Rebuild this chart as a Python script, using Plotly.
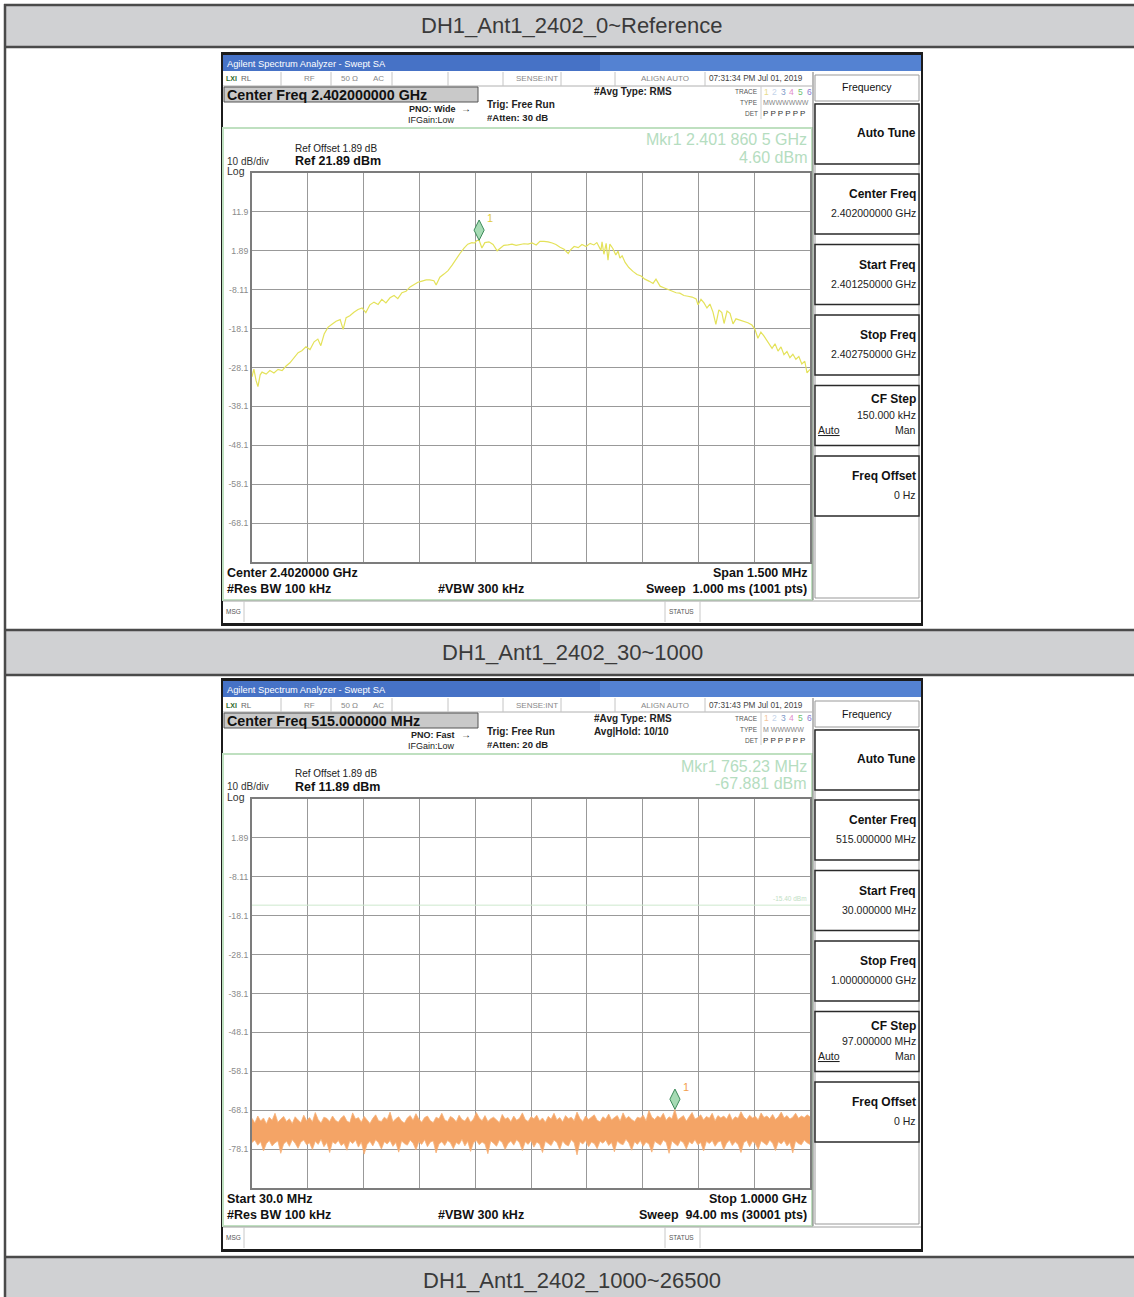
import plotly.graph_objects as go

W, H = 1134, 1297
FONT = "Liberation Sans, Arial, sans-serif"

# ------------------------------------------------------------------ data
section_titles = ["DH1_Ant1_2402_0~Reference", "DH1_Ant1_2402_30~1000", "DH1_Ant1_2402_1000~26500"]

# Screen 1 : reference level sweep (MHz / dBm)
s1_freq_mhz = [
    2401.250, 2401.255, 2401.261, 2401.266, 2401.272, 2401.277, 2401.288, 2401.298, 2401.309, 2401.320,
    2401.331, 2401.341, 2401.352, 2401.363, 2401.374, 2401.384, 2401.395, 2401.406, 2401.417, 2401.427,
    2401.435, 2401.444, 2401.454, 2401.465, 2401.476, 2401.487, 2401.495, 2401.503, 2401.513, 2401.524,
    2401.535, 2401.546, 2401.556, 2401.567, 2401.578, 2401.589, 2401.599, 2401.610, 2401.621, 2401.632,
    2401.642, 2401.653, 2401.664, 2401.675, 2401.685, 2401.696, 2401.707, 2401.718, 2401.728, 2401.739,
    2401.745, 2401.755, 2401.766, 2401.777, 2401.788, 2401.798, 2401.809, 2401.820, 2401.830, 2401.841,
    2401.849, 2401.854, 2401.8605, 2401.868, 2401.876, 2401.887, 2401.898, 2401.909, 2401.917, 2401.927,
    2401.938, 2401.949, 2401.960, 2401.970, 2401.981, 2401.992, 2402.003, 2402.014, 2402.024, 2402.035,
    2402.046, 2402.057, 2402.067, 2402.078, 2402.089, 2402.100, 2402.105, 2402.116, 2402.127, 2402.137,
    2402.148, 2402.159, 2402.169, 2402.177, 2402.188, 2402.191, 2402.196, 2402.202, 2402.207, 2402.212,
    2402.220, 2402.228, 2402.234, 2402.239, 2402.245, 2402.253, 2402.263, 2402.274, 2402.285, 2402.296,
    2402.306, 2402.317, 2402.328, 2402.336, 2402.347, 2402.357, 2402.368, 2402.379, 2402.390, 2402.400,
    2402.411, 2402.422, 2402.433, 2402.444, 2402.449, 2402.457, 2402.465, 2402.473, 2402.481, 2402.489,
    2402.497, 2402.505, 2402.513, 2402.519, 2402.527, 2402.535, 2402.543, 2402.551, 2402.562, 2402.572,
    2402.583, 2402.594, 2402.602, 2402.610, 2402.618, 2402.626, 2402.637, 2402.648, 2402.656, 2402.664,
    2402.672, 2402.680, 2402.688, 2402.696, 2402.704, 2402.712, 2402.720, 2402.728, 2402.736, 2402.742,
    2402.750]
s1_level_dbm = [
    -30.5, -28.5, -31.5, -33.0, -30.0, -29.3, -29.8, -28.9, -29.5, -28.6,
    -28.9, -27.8, -26.9, -25.5, -24.3, -23.8, -22.8, -23.5, -21.5, -20.8,
    -22.5, -19.5, -17.8, -17.0, -16.2, -15.8, -18.3, -15.3, -14.8, -13.9,
    -13.2, -12.8, -14.0, -12.0, -11.3, -11.9, -10.6, -11.5, -10.2, -9.6,
    -10.4, -8.9, -8.5, -7.4, -6.8, -6.2, -5.9, -5.6, -5.6, -5.8,
    -6.9, -4.9, -4.1, -3.2, -1.8, -0.3, 1.2, 2.6, 3.6, 4.0,
    3.9, 4.5, 4.6, 2.6, 4.0, 4.2, 3.5, 1.9, 2.6, 3.3,
    3.4, 3.6, 3.3, 3.5, 3.7, 3.6, 3.9, 3.4, 4.3, 4.3,
    4.2, 3.9, 3.5, 2.8, 2.3, 1.2, 2.0, 3.0, 2.7, 3.5,
    3.0, 3.8, 3.4, 4.0, 2.0, 4.2, 1.0, 3.8, -0.5, 3.6,
    2.5, 0.8, 1.8, 0.0, 0.6, -1.1, -2.4, -3.4, -4.2, -4.6,
    -5.4, -5.9, -6.5, -5.4, -7.2, -7.6, -8.0, -8.3, -8.9, -9.0,
    -9.6, -9.8, -10.0, -10.5, -12.0, -10.6, -11.5, -12.8, -11.8, -13.8,
    -17.0, -13.3, -14.0, -16.8, -13.6, -14.2, -16.9, -15.6, -15.9, -16.2,
    -16.6, -17.2, -18.3, -20.6, -19.0, -20.0, -21.5, -23.2, -22.0, -23.9,
    -22.8, -24.8, -24.0, -25.6, -24.7, -26.0, -25.3, -27.2, -26.5, -29.5,
    -28.6]
s1_start_mhz, s1_stop_mhz = 2401.25, 2402.75
s1_ref_dbm = 21.89
s1_mkr_freq_mhz, s1_mkr_level_dbm = 2401.8605, 4.60
s1_ytick_text = ["11.9", "1.89", "-8.11", "-18.1", "-28.1", "-38.1", "-48.1", "-58.1", "-68.1"]

# Screen 2 : 30 MHz - 1 GHz sweep, noise floor envelope (dBm), one sample every 5 MHz
s2_freq_mhz = list(range(30, 1001, 5))
s2_upper_dbm = [
    -70.2, -71.4, -69.6, -70.9, -70.1, -71.6, -69.9, -70.7, -68.9, -71.2, -70.4, -69.7, -71.0, -70.3, -71.5,
    -69.8, -70.6, -71.3, -69.4, -70.8, -70.0, -71.1, -68.7, -70.5, -71.4, -69.9, -70.2, -71.0, -69.6, -70.7,
    -71.2, -70.1, -69.5, -70.9, -71.3, -68.8, -70.4, -70.0, -71.2, -69.7, -70.6, -71.5, -70.2, -69.3, -70.8,
    -71.0, -69.9, -70.5, -68.6, -71.1, -70.3, -69.8, -70.9, -71.4, -70.1, -69.5, -70.7, -69.0, -70.4, -71.2,
    -70.0, -69.6, -70.8, -71.3, -69.9, -70.3, -68.9, -70.6, -71.0, -69.7, -70.2, -71.1, -69.4, -70.5, -70.9,
    -69.8, -71.2, -70.4, -68.7, -70.1, -70.8, -69.5, -71.0, -70.3, -69.9, -70.6, -71.3, -69.2, -70.4, -70.0,
    -71.1, -69.6, -70.7, -70.2, -68.8, -70.5, -71.0, -69.8, -70.3, -69.4, -70.9, -70.1, -71.2, -69.7, -70.4,
    -68.9, -70.6, -70.0, -71.1, -69.5, -70.3, -69.9, -70.8, -68.6, -70.2, -71.0, -69.6, -70.5, -70.0, -69.3,
    -70.7, -71.1, -69.8, -70.4, -69.1, -70.6, -70.0, -69.5, -70.9, -68.8, -70.3, -69.7, -70.5, -71.0, -69.9,
    -70.2, -69.4, -70.8, -68.2, -69.9, -70.5, -69.6, -70.1, -68.9, -70.7, -69.8, -70.3, -67.9, -70.6, -70.0,
    -69.5, -70.9, -69.8, -68.7, -70.4, -70.0, -69.3, -70.6, -69.7, -70.2, -68.9, -70.8, -69.5, -70.1, -69.6,
    -70.4, -69.0, -70.7, -69.8, -70.2, -68.5, -69.9, -70.5, -69.4, -70.1, -69.7, -70.6, -68.8, -70.0, -69.6,
    -70.3, -69.2, -70.5, -69.8, -68.6, -70.1, -69.5, -70.4, -69.9, -68.9, -70.2, -69.6, -70.0, -69.3, -69.8]
s2_lower_dbm = [
    -76.4, -75.8, -77.1, -76.2, -78.6, -76.7, -75.9, -77.3, -76.5, -76.0, -79.2, -76.8, -76.1, -77.4, -75.7,
    -76.6, -77.9, -76.3, -75.8, -77.0, -76.5, -78.2, -76.1, -76.9, -75.6, -77.5, -76.4, -79.0, -76.2, -76.8,
    -75.9, -77.2, -76.6, -78.4, -76.0, -76.7, -75.8, -77.6, -76.3, -79.4, -76.9, -76.1, -77.3, -75.7, -76.5,
    -78.1, -76.2, -76.8, -75.9, -77.4, -76.4, -78.9, -76.0, -76.7, -77.1, -75.8, -76.6, -78.3, -76.2, -76.9,
    -75.7, -77.5, -76.3, -76.0, -79.1, -76.8, -76.2, -77.2, -75.9, -76.5, -78.0, -76.4, -76.9, -75.6, -77.3,
    -76.1, -78.7, -76.5, -75.9, -77.0, -76.3, -76.8, -79.3, -76.0, -76.6, -77.4, -75.8, -76.4, -78.2, -76.7,
    -76.0, -77.1, -75.7, -76.5, -78.5, -76.2, -76.9, -75.9, -77.6, -76.3, -76.8, -79.0, -76.1, -76.6, -77.2,
    -75.8, -76.4, -78.3, -76.0, -76.9, -77.3, -75.7, -76.5, -79.6, -76.2, -76.8, -75.9, -77.5, -76.3, -76.7,
    -78.0, -76.1, -76.6, -75.8, -77.2, -76.4, -78.8, -76.0, -76.7, -77.0, -75.6, -76.5, -78.4, -76.2, -76.9,
    -75.9, -77.4, -76.3, -76.8, -78.9, -76.1, -76.6, -77.1, -75.8, -76.4, -79.2, -76.0, -76.7, -77.3, -75.9,
    -76.5, -78.1, -76.2, -76.8, -75.7, -77.0, -76.4, -78.6, -76.1, -76.7, -75.9, -77.4, -76.3, -76.0, -78.3,
    -76.6, -75.8, -77.2, -76.2, -76.9, -79.0, -76.4, -75.9, -77.5, -76.1, -76.7, -78.2, -76.0, -76.5, -77.1,
    -75.8, -76.6, -78.5, -76.2, -76.8, -75.9, -77.3, -76.4, -79.1, -76.0, -76.7, -77.0, -75.8, -76.5, -76.9]
s2_start_mhz, s2_stop_mhz = 30.0, 1000.0
s2_ref_dbm = 11.89
s2_limit_dbm = -15.40
s2_mkr_freq_mhz, s2_mkr_level_dbm = 765.23, -67.881
s2_ytick_text = ["1.89", "-8.11", "-18.1", "-28.1", "-38.1", "-48.1", "-58.1", "-68.1", "-78.1"]

screens = [
    dict(time="07:31:34 PM Jul 01, 2019", center="Center Freq 2.402000000 GHz", pno="PNO: Wide",
         atten="#Atten: 30 dB", avg2="", mkr1="Mkr1 2.401 860 5 GHz", mkr2="4.60 dBm",
         ref="Ref 21.89 dBm", bl="Center 2.4020000 GHz", br="Span 1.500 MHz",
         sweep="Sweep  1.000 ms (1001 pts)", typ="MWWWWWW", c1="#e8dc8a",
         keys=[("Center Freq", "2.402000000 GHz"), ("Start Freq", "2.401250000 GHz"),
               ("Stop Freq", "2.402750000 GHz"), ("CF Step", "150.000 kHz"), ("Freq Offset", "0 Hz")]),
    dict(time="07:31:43 PM Jul 01, 2019", center="Center Freq 515.000000 MHz", pno="PNO: Fast",
         atten="#Atten: 20 dB", avg2="Avg|Hold: 10/10", mkr1="Mkr1 765.23 MHz", mkr2="-67.881 dBm",
         ref="Ref 11.89 dBm", bl="Start 30.0 MHz", br="Stop 1.0000 GHz",
         sweep="Sweep  94.00 ms (30001 pts)", typ="M WWWWW", c1="#f3c49a",
         keys=[("Center Freq", "515.000000 MHz"), ("Start Freq", "30.000000 MHz"),
               ("Stop Freq", "1.000000000 GHz"), ("CF Step", "97.000000 MHz"), ("Freq Offset", "0 Hz")]),
]

# ------------------------------------------------------------------ helpers
shapes, anns = [], []


def X(p):
    return p / W


def Y(p):
    return 1 - p / H


def R(x0, y0, x1, y1, fill=None, line=None, lw=1.0):
    shapes.append(dict(type="rect", xref="paper", yref="paper", x0=X(x0), x1=X(x1), y0=Y(y1), y1=Y(y0),
                       fillcolor=fill or "rgba(0,0,0,0)",
                       line=dict(color=line or "rgba(0,0,0,0)", width=lw if line else 0), layer="below"))


def L(x0, y0, x1, y1, color, lw=1.0):
    shapes.append(dict(type="line", xref="paper", yref="paper", x0=X(x0), x1=X(x1), y0=Y(y0), y1=Y(y1),
                       line=dict(color=color, width=lw), layer="below"))


def T(x, y, s, size=10, color="#222", xa="left", ya="middle", bold=False, family=FONT):
    anns.append(dict(x=X(x), y=Y(y), xref="paper", yref="paper", text=("<b>%s</b>" % s) if bold else s,
                     showarrow=False, xanchor=xa, yanchor=ya, borderpad=0,
                     font=dict(size=size, color=color, family=family)))


# ------------------------------------------------------------------ table
header_rows = [(5, 47), (630, 675), (1257, 1300)]
for (y0, y1), title in zip(header_rows, section_titles):
    R(5, y0, W + 2, y1, fill="#d0d1d3")
for (y0, y1), title in zip(header_rows[:2], section_titles[:2]):
    T(572, (y0 + y1) / 2, title, size=22, color="#3a3a3a", xa="center")
T(572, 1280, section_titles[2], size=22, color="#3a3a3a", xa="center")
for (y0, y1) in header_rows:
    L(4, y0, W + 2, y0, "#4a4a4a", 2.5)
    L(4, y1, W + 2, y1, "#4a4a4a", 2.5)
L(5, 4, 5, H + 2, "#4a4a4a", 2.5)

# ------------------------------------------------------------------ analyzer screens
fig = go.Figure()
OFFS = [0, 626]
for k, (o, c) in enumerate(zip(OFFS, screens)):
    R(221, 52 + o, 923, 626 + o, fill="#1b1b1b")
    R(223, 55 + o, 921, 623 + o, fill="#ffffff")
    R(223, 55 + o, 921, 71 + o, fill="#4672c6")
    R(600, 55 + o, 921, 71 + o, fill="#5482d2")
    T(226, 63.5 + o, "Agilent Spectrum Analyzer - Swept SA", size=9.3, color="#ffffff")
    # status row
    L(223, 86 + o, 812, 86 + o, "#b0b0b0", 1)
    for xd in [281, 331, 392, 448, 503, 561, 615, 705]:
        L(xd, 72 + o, xd, 86 + o, "#c4c4c4", 1)
    T(225, 79 + o, "LXI", size=7, color="#2f6b2f", bold=True)
    T(240, 79 + o, "RL", size=8, color="#666")
    T(303, 79 + o, "RF", size=8, color="#888")
    T(340, 79 + o, "50 Ω", size=8, color="#888")
    T(372, 79 + o, "AC", size=8, color="#888")
    T(559, 79 + o, "SENSE:INT", size=8, color="#888", xa="right")
    T(640, 79 + o, "ALIGN AUTO", size=8, color="#888")
    T(708, 79 + o, c["time"], size=8.2, color="#444")
    # info area
    R(224, 87 + o, 478, 102 + o, fill="#c9c9c9", line="#555", lw=1)
    T(226, 95 + o, c["center"], size=14.3, color="#111", bold=True)
    T(456, 109 + o, c["pno"], size=9, color="#222", xa="right", bold=True)
    T(466, 108.5 + o, "→", size=10, color="#222", xa="center")
    T(456, 120 + o, "IFGain:Low", size=9, color="#222", xa="right")
    T(486, 105 + o, "Trig: Free Run", size=10, color="#222", bold=True)
    T(486, 118 + o, c["atten"], size=9.5, color="#222", bold=True)
    T(593, 92 + o, "#Avg Type: RMS", size=10, color="#222", bold=True)
    if c["avg2"]:
        T(593, 105 + o, c["avg2"], size=10, color="#222", bold=True)
    T(759, 92 + o, "TRACE", size=6.5, color="#555", xa="right")
    T(759, 103 + o, "TYPE", size=6.5, color="#555", xa="right")
    T(759, 114 + o, "DET", size=6.5, color="#555", xa="right")
    L(761, 86 + o, 761, 119 + o, "#cccccc", 1)
    digit_colors = [c["c1"], "#c4d4ea", "#7b97c8", "#e08cc8", "#6fbf6f", "#8a7ad0"]
    for i, dc in enumerate(digit_colors):
        T(766 + i * 8.6, 92 + o, str(i + 1), size=8.5, color=dc, xa="center")
    T(762, 103 + o, c["typ"], size=7, color="#888")
    T(762, 114 + o, "P P P P P P", size=8, color="#333")
    # green measurement panel
    R(223, 128 + o, 812, 600 + o, line="#bfe0c0", lw=2)
    T(808, 140 + o, c["mkr1"], size=16, color="#b5ddc0", xa="right")
    T(808, 157 + o, c["mkr2"], size=16, color="#b5ddc0", xa="right")
    T(294, 148 + o, "Ref Offset 1.89 dB", size=10, color="#222")
    T(294, 161 + o, c["ref"], size=12.5, color="#111", bold=True)
    T(226, 161 + o, "10 dB/div", size=10, color="#333")
    T(226, 171 + o, "Log", size=10.5, color="#333")
    T(226, 573 + o, c["bl"], size=12.5, color="#111", bold=True)
    T(808, 573 + o, c["br"], size=12.5, color="#111", bold=True, xa="right")
    T(226, 589 + o, "#Res BW 100 kHz", size=12.5, color="#111", bold=True)
    T(437, 589 + o, "#VBW 300 kHz", size=12.5, color="#111", bold=True)
    T(808, 589 + o, c["sweep"], size=12.5, color="#111", bold=True, xa="right")
    # message row
    L(223, 601 + o, 921, 601 + o, "#a0a0a0", 1)
    for xd in [244, 665, 700]:
        L(xd, 601 + o, xd, 622 + o, "#c8c8c8", 1)
    T(225, 611 + o, "MSG", size=6.5, color="#555")
    T(668, 611 + o, "STATUS", size=6.5, color="#555")
    # soft keys
    L(813, 72 + o, 813, 600 + o, "#777", 1)
    R(815, 75 + o, 919, 101 + o, line="#999", lw=1)
    T(867, 87.5 + o, "Frequency", size=10.5, color="#111", xa="center")
    R(815, 104 + o, 919, 598 + o, line="#999", lw=1)
    R(815, 104 + o, 919, 164 + o, fill="#ffffff", line="#2a2a2a", lw=1.5)
    T(917, 133 + o, "Auto Tune", size=12, color="#111", xa="right", bold=True)
    for j, (kt, kv) in enumerate(c["keys"]):
        top = 174 + o + j * 70.5
        R(815, top, 919, top + 60, fill="#ffffff", line="#2a2a2a", lw=1.5)
        if kt == "CF Step":
            T(917, top + 14, kt, size=12, color="#111", xa="right", bold=True)
            T(917, top + 29, kv, size=10.5, color="#222", xa="right")
            T(817, top + 44, "<u>Auto</u>", size=10.5, color="#222")
            T(917, top + 44, "Man", size=10.5, color="#222", xa="right")
        else:
            T(917, top + 20, kt, size=12, color="#111", xa="right", bold=True)
            T(917, top + 39, kv, size=10.5, color="#222", xa="right")

# ------------------------------------------------------------------ traces
fig.add_trace(go.Scatter(x=s1_freq_mhz, y=s1_level_dbm, mode="lines", xaxis="x", yaxis="y",
                         line=dict(color="#e4e25a", width=1.2), showlegend=False))
fig.add_trace(go.Scatter(x=s2_freq_mhz, y=s2_lower_dbm, mode="lines", xaxis="x2", yaxis="y2",
                         line=dict(color="#f6b27a", width=0.8), showlegend=False))
fig.add_trace(go.Scatter(x=s2_freq_mhz, y=s2_upper_dbm, mode="lines", xaxis="x2", yaxis="y2",
                         fill="tonexty", fillcolor="#f4a466",
                         line=dict(color="#f6b27a", width=0.8), showlegend=False))

MK_LIFT = 2.6  # dB the diamond symbol sits above the marker point
for ax, (mf, ml, lc) in zip(["", "2"], [(s1_mkr_freq_mhz, s1_mkr_level_dbm, "#e2cc3a"),
                                         (s2_mkr_freq_mhz, s2_mkr_level_dbm, "#f2a050")]):
    fig.add_trace(go.Scatter(x=[mf], y=[ml + MK_LIFT], mode="markers", xaxis="x" + ax, yaxis="y" + ax,
                             marker=dict(symbol="diamond-tall", size=14.5, color="#a6dbb4",
                                         line=dict(color="#3d8a5a", width=1)), showlegend=False))
    anns.append(dict(x=mf, y=ml, xref="x" + ax, yref="y" + ax, text="1", showarrow=False,
                     xanchor="left", yanchor="bottom", xshift=6, yshift=14,
                     font=dict(size=11, color=lc, family=FONT)))

# limit line on screen 2
shapes.append(dict(type="line", xref="x2 domain", yref="y2", x0=0, x1=1, y0=s2_limit_dbm, y1=s2_limit_dbm,
                   line=dict(color="#cde8cd", width=1), layer="above"))
anns.append(dict(x=0.998, y=s2_limit_dbm, xref="x2 domain", yref="y2", text="-15.40 dBm", showarrow=False,
                 xanchor="right", yanchor="bottom", yshift=1, font=dict(size=6.5, color="#bfe0c4", family=FONT)))

# ------------------------------------------------------------------ axes


def axis_pair(o, start, stop, ref, ticktext):
    xa = dict(domain=[X(252), X(810)], range=[start, stop],
              tickvals=[start + (stop - start) * i / 10 for i in range(1, 10)],
              showticklabels=False, ticks="", showgrid=True, gridcolor="#999999", gridwidth=1.1,
              zeroline=False, showline=True, mirror=True, linecolor="#7c7c7c", linewidth=2, fixedrange=True)
    ya = dict(domain=[Y(562 + o), Y(173 + o)], range=[ref - 100, ref],
              tickvals=[ref - 10 * i for i in range(1, 10)], ticktext=ticktext,
              showticklabels=True, ticks="", tickfont=dict(size=8.7, color="#8a8a8a", family=FONT),
              showgrid=True, gridcolor="#999999", gridwidth=1.1, zeroline=False,
              showline=True, mirror=True, linecolor="#7c7c7c", linewidth=2, fixedrange=True)
    return xa, ya


x1a, y1a = axis_pair(0, s1_start_mhz, s1_stop_mhz, s1_ref_dbm, s1_ytick_text)
x2a, y2a = axis_pair(626, s2_start_mhz, s2_stop_mhz, s2_ref_dbm, s2_ytick_text)
x1a["anchor"], y1a["anchor"] = "y", "x"
x2a["anchor"], y2a["anchor"] = "y2", "x2"

fig.update_layout(
    width=W, height=H, margin=dict(l=0, r=0, t=0, b=0),
    paper_bgcolor="#ffffff", plot_bgcolor="rgba(0,0,0,0)",
    xaxis=x1a, yaxis=y1a, xaxis2=x2a, yaxis2=y2a,
    shapes=shapes, annotations=anns, showlegend=False,
    font=dict(family=FONT),
)
fig.write_html("out.html", config={"displayModeBar": False},
               post_script="document.body.style.margin='0px';document.body.style.overflow='hidden';")
